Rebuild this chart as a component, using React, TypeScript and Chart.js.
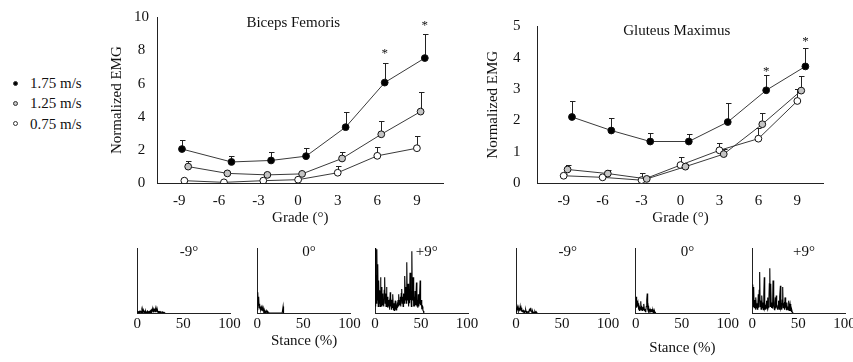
import React, { useEffect, useRef } from "react";
import { Chart, registerables } from "chart.js";

Chart.register(...registerables);

const FONT = "'Liberation Serif', 'Times New Roman', serif";
const TEXT = "#111111";
const AXIS = "#222222";

// ---------- legend / series ----------
const SPEEDS = ["1.75 m/s", "1.25 m/s", "0.75 m/s"];
const SPEED_FILL = ["#000000", "#c4c4c4", "#ffffff"];

// ---------- top panels ----------
const GRADE_TICKS = [-9, -6, -3, 0, 3, 6, 9];

// Biceps femoris
const BF_FAST_X = [-8.8, -5.05, -2.05, 0.6, 3.6, 6.56, 9.6];
const BF_FAST_Y = [2.05, 1.27, 1.36, 1.62, 3.37, 6.06, 7.54];
const BF_FAST_ERR = [2.57, 1.6, 1.85, 2.14, 4.29, 7.27, 8.99];
const BF_MED_X = [-8.33, -5.36, -2.33, 0.3, 3.33, 6.3, 9.28];
const BF_MED_Y = [0.99, 0.58, 0.49, 0.55, 1.48, 2.94, 4.31];
const BF_MED_ERR = [1.33, 0.62, 0.52, 0.6, 1.85, 3.76, 5.52];
const BF_SLOW_X = [-8.62, -5.62, -2.64, 0, 3, 6, 9];
const BF_SLOW_Y = [0.14, 0.04, 0.14, 0.2, 0.62, 1.64, 2.1];
const BF_SLOW_ERR = [0.15, 0.05, 0.15, 0.22, 1.03, 2.18, 2.83];
const BF_STAR_X = [6.56, 9.6];
const BF_STAR_Y = [8.0, 9.7];

// Gluteus maximus
const GM_FAST_X = [-8.36, -5.33, -2.33, 0.64, 3.64, 6.6, 9.62];
const GM_FAST_Y = [2.11, 1.68, 1.33, 1.33, 1.95, 2.96, 3.72];
const GM_FAST_ERR = [2.62, 2.08, 1.61, 1.56, 2.56, 3.44, 4.3];
const GM_MED_X = [-8.7, -5.6, -2.6, 0.38, 3.33, 6.3, 9.3];
const GM_MED_Y = [0.44, 0.31, 0.14, 0.53, 0.93, 1.88, 2.95];
const GM_MED_ERR = [0.58, 0.43, 0.2, 0.6, 1.1, 2.24, 3.41];
const GM_SLOW_X = [-9, -6, -3, 0, 3, 6, 9];
const GM_SLOW_Y = [0.24, 0.19, 0.1, 0.58, 1.05, 1.42, 2.62];
const GM_SLOW_ERR = [0.3, 0.25, 0.33, 0.85, 1.29, 1.75, 2.99];
const GM_STAR_X = [6.6, 9.62];
const GM_STAR_Y = [3.68, 4.63];

// ---------- bottom panels (raw EMG over stance) ----------
const STANCE_TICKS = [0, 50, 100];
const STANCE_STEP = 0.5; // % stance between samples
const PANEL_LABELS = ["-9°", "0°", "+9°"];

const BF_EMG_M9 = [
  0.03, 0.01, 0.02, 0.01, 0.02, 0.01, 0.03, 0.01, 0.02, 0.01,
  0.04, 0.01, 0.05, 0.02, 0.03, 0.01, 0.02, 0.01, 0.03, 0.01,
  0.02, 0.01, 0.03, 0.01, 0.02, 0.01, 0.02, 0.01, 0.03, 0.02,
  0.04, 0.02, 0.05, 0.03, 0.06, 0.02, 0.05, 0.03, 0.07, 0.02,
  0.06, 0.03, 0.05, 0.02, 0.04, 0.01, 0.03, 0.01, 0.02, 0.01,
  0.02, 0.01, 0.01, 0.01, 0.02, 0.01, 0.01, 0, 0.01, 0, 0,
];
const BF_EMG_0 = [
  0.05, 0.32, 0.12, 0.25, 0.08, 0.14, 0.06, 0.1, 0.05, 0.09,
  0.04, 0.08, 0.03, 0.07, 0.02, 0.05, 0.02, 0.03, 0.01, 0.02,
  0.01, 0.03, 0.01, 0.02, 0.01, 0.01, 0, 0, 0, 0,
  0, 0, 0, 0, 0, 0, 0, 0, 0, 0,
  0, 0, 0, 0, 0, 0, 0, 0, 0, 0,
  0, 0, 0, 0, 0, 0, 0.1, 0,
];
const BF_EMG_P9 = [
  1.0, 0.1, 0.6, 0.15, 0.98, 0.2, 0.75, 0.1, 0.5, 0.15,
  0.35, 0.1, 0.55, 0.2, 0.4, 0.1, 0.3, 0.12, 0.2, 0.1,
  0.35, 0.55, 0.15, 0.3, 0.1, 0.4, 0.15, 0.25, 0.08, 0.2,
  0.1, 0.15, 0.05, 0.32, 0.1, 0.2, 0.05, 0.15, 0.08, 0.29,
  0.05, 0.15, 0.04, 0.12, 0.19, 0.05, 0.1, 0.04, 0.12, 0.08,
  0.2, 0.29, 0.1, 0.2, 0.12, 0.25, 0.1, 0.3, 0.37, 0.15,
  0.25, 0.1, 0.3, 0.15, 0.35, 0.57, 0.2, 0.4, 0.15, 0.78,
  0.2, 0.3, 0.45, 0.1, 0.3, 0.15, 0.62, 0.2, 0.35, 0.1,
  0.95, 0.2, 0.4, 0.55, 0.1, 0.25, 0.1, 0.34, 0.12, 0.2,
  0.47, 0.1, 0.2, 0.08, 0.29, 0.1, 0.15, 0.3, 0.5, 0.12,
  0.2, 0.19, 0.08, 0.1, 0.04, 0.03, 0,
];
const GM_EMG_M9 = [
  0.02, 0.08, 0.03, 0.09, 0.04, 0.08, 0.03, 0.06, 0.05, 0.1,
  0.04, 0.08, 0.02, 0.06, 0.02, 0.03, 0.04, 0.02, 0.03, 0.01,
  0.02, 0.05, 0.02, 0.01, 0.02, 0.01, 0.01, 0.02, 0.01, 0.05,
  0.07, 0.03, 0.08, 0.04, 0.02, 0.01, 0.03, 0.01, 0.02, 0.01,
  0.01, 0.02, 0, 0.01, 0, 0.01, 0,
];
const GM_EMG_0 = [
  0.1, 0.25, 0.08, 0.19, 0.1, 0.15, 0.05, 0.09, 0.04, 0.08,
  0.06, 0.18, 0.05, 0.11, 0.04, 0.09, 0.05, 0.1, 0.14, 0.04,
  0.06, 0.02, 0.04, 0.1, 0.2, 0.3, 0.08, 0.11, 0.03, 0.06,
  0.02, 0.05, 0.02, 0.04, 0.02, 0.06, 0.02, 0.04, 0.01, 0.03,
  0.01, 0.03, 0.01, 0,
];
const GM_EMG_P9 = [
  0.2, 0.44, 0.1, 0.4, 0.08, 0.2, 0.14, 0.05, 0.24, 0.08,
  0.15, 0.06, 0.12, 0.29, 0.08, 0.35, 0.63, 0.1, 0.19, 0.06,
  0.15, 0.27, 0.08, 0.16, 0.05, 0.3, 0.55, 0.08, 0.11, 0.05,
  0.12, 0.19, 0.07, 0.24, 0.06, 0.09, 0.2, 0.45, 0.69, 0.1,
  0.45, 0.12, 0.08, 0.16, 0.07, 0.5, 0.1, 0.11, 0.05, 0.15,
  0.24, 0.07, 0.27, 0.1, 0.09, 0.05, 0.12, 0.19, 0.06, 0.15,
  0.25, 0.42, 0.08, 0.11, 0.05, 0.2, 0.4, 0.08, 0.12, 0.14,
  0.05, 0.24, 0.08, 0.12, 0.05, 0.16, 0.06, 0.1, 0.05, 0.19,
  0.04, 0.1, 0.14, 0.03, 0.09, 0.02, 0.04, 0.01, 0,
];

// ---------- plugins ----------
const errorBarPlugin = {
  id: "errorBars",
  beforeDatasetsDraw(chart: any) {
    const ctx = chart.ctx;
    const ys = chart.scales.y;
    chart.data.datasets.forEach((ds: any, i: number) => {
      const err = ds.errTop;
      if (!err) return;
      const meta = chart.getDatasetMeta(i);
      ctx.save();
      ctx.strokeStyle = AXIS;
      ctx.lineWidth = 1;
      meta.data.forEach((pt: any, j: number) => {
        const v = err[j];
        if (v == null) return;
        const top = Math.round(ys.getPixelForValue(v)) + 0.5;
        const x = Math.round(pt.x) + 0.5;
        ctx.beginPath();
        ctx.moveTo(x, pt.y);
        ctx.lineTo(x, top);
        ctx.moveTo(x - 2.5, top);
        ctx.lineTo(x + 3, top);
        ctx.stroke();
      });
      ctx.restore();
    });
  },
};

const starPlugin = {
  id: "stars",
  afterDatasetsDraw(chart: any, _args: any, opts: any) {
    if (!opts || !opts.x) return;
    const ctx = chart.ctx;
    ctx.save();
    ctx.fillStyle = TEXT;
    ctx.font = `13px ${FONT}`;
    ctx.textAlign = "center";
    ctx.textBaseline = "alphabetic";
    opts.x.forEach((xv: number, i: number) => {
      const px = chart.scales.x.getPixelForValue(xv);
      const py = chart.scales.y.getPixelForValue(opts.y[i]);
      ctx.fillText("*", px, py + 7);
    });
    ctx.restore();
  },
};

const panelTitlePlugin = {
  id: "panelTitle",
  afterDraw(chart: any, _args: any, opts: any) {
    if (!opts || !opts.text) return;
    const { ctx, chartArea } = chart;
    ctx.save();
    ctx.fillStyle = TEXT;
    ctx.font = `15px ${FONT}`;
    ctx.textAlign = "center";
    ctx.textBaseline = "middle";
    ctx.fillText(opts.text, (chartArea.left + chartArea.right) / 2 + opts.dx, chartArea.top + opts.dy);
    ctx.restore();
  },
};

// ---------- configs ----------
type TopSpec = {
  title: string;
  titleDx: number;
  series: { x: number[]; y: number[]; err: number[] }[];
  stars: { x: number[]; y: number[] };
  xMin: number;
  xMax: number;
  yMax: number;
  yStep: number;
  yAxisW: number;
  xAxisH: number;
  padTop: number;
  padRight: number;
  yTickPad: number;
  yTitlePad: number;
};

function topConfig(s: TopSpec): any {
  return {
    type: "scatter",
    data: {
      datasets: s.series.map((ser, i) => ({
        label: SPEEDS[i],
        data: ser.x.map((x, j) => ({ x, y: ser.y[j] })),
        errTop: ser.err,
        showLine: true,
        borderColor: "#3a3a3a",
        borderWidth: 1,
        pointRadius: 3.4,
        pointHoverRadius: 3.4,
        pointBackgroundColor: SPEED_FILL[i],
        pointBorderColor: "#111111",
        pointBorderWidth: 1,
      })),
    },
    options: {
      responsive: false,
      animation: false,
      events: [],
      layout: { padding: { top: s.padTop, right: s.padRight, left: 0, bottom: 0 } },
      plugins: {
        legend: { display: false },
        tooltip: { enabled: false },
        panelTitle: { text: s.title, dx: s.titleDx, dy: 17 - s.padTop },
        stars: s.stars,
      },
      scales: {
        x: {
          type: "linear",
          min: s.xMin,
          max: s.xMax,
          grid: { display: false, drawTicks: false },
          border: { display: true, color: AXIS, width: 1 },
          afterBuildTicks: (sc: any) => {
            sc.ticks = GRADE_TICKS.map((v) => ({ value: v }));
          },
          afterFit: (sc: any) => {
            sc.height = s.xAxisH;
          },
          ticks: {
            color: TEXT,
            font: { family: FONT, size: 15 },
            padding: 9,
            maxRotation: 0,
            callback: (v: any) => String(v),
          },
          title: {
            display: true,
            text: "Grade (°)",
            color: TEXT,
            font: { family: FONT, size: 15 },
            padding: { top: 0, bottom: 2.7 },
          },
        },
        y: {
          type: "linear",
          min: 0,
          max: s.yMax,
          grid: { display: false, drawTicks: false },
          border: { display: true, color: AXIS, width: 1 },
          afterFit: (sc: any) => {
            sc.width = s.yAxisW;
          },
          ticks: {
            stepSize: s.yStep,
            color: TEXT,
            font: { family: FONT, size: 15 },
            padding: s.yTickPad,
            crossAlign: "center",
            callback: (v: any) => String(v),
          },
          title: {
            display: true,
            text: "Normalized EMG",
            color: TEXT,
            font: { family: FONT, size: 15 },
            padding: { top: s.yTitlePad, bottom: 0 },
          },
        },
      },
    },
    plugins: [errorBarPlugin, starPlugin, panelTitlePlugin],
  };
}

type BottomSpec = {
  label: string;
  values: number[];
  yAxisW: number;
  padRight: number;
  stanceTitle: boolean;
  stanceTitlePad: number;
};

function bottomConfig(b: BottomSpec): any {
  return {
    type: "line",
    data: {
      datasets: [
        {
          data: b.values.map((v, i) => ({ x: i * STANCE_STEP, y: v })),
          borderColor: "#000000",
          borderWidth: 1.1,
          pointRadius: 0,
          tension: 0,
          fill: false,
        },
      ],
    },
    options: {
      responsive: false,
      animation: false,
      events: [],
      layout: { padding: { top: 8, right: b.padRight, left: 0, bottom: 0 } },
      plugins: {
        legend: { display: false },
        tooltip: { enabled: false },
        panelTitle: { text: b.label, dx: 5, dy: 4 },
      },
      scales: {
        x: {
          type: "linear",
          min: 0,
          max: 101.5,
          grid: { display: false, drawTicks: false },
          border: { display: true, color: AXIS, width: 1 },
          afterBuildTicks: (sc: any) => {
            sc.ticks = STANCE_TICKS.map((v) => ({ value: v }));
          },
          afterFit: (sc: any) => {
            sc.height = 49;
          },
          ticks: {
            color: TEXT,
            font: { family: FONT, size: 15 },
            padding: 2,
            maxRotation: 0,
            autoSkip: false,
            callback: (v: any) => String(v),
          },
          title: {
            display: b.stanceTitle,
            text: "Stance (%)",
            color: TEXT,
            font: { family: FONT, size: 15 },
            padding: { top: 0, bottom: b.stanceTitlePad },
          },
        },
        y: {
          type: "linear",
          min: 0,
          max: 1,
          grid: { display: false, drawTicks: false },
          border: { display: true, color: AXIS, width: 1 },
          ticks: { display: false },
          afterFit: (sc: any) => {
            sc.width = b.yAxisW;
          },
        },
      },
    },
    plugins: [panelTitlePlugin],
  };
}

// ---------- components ----------
function ChartBox(props: { left: number; top: number; width: number; height: number; make: () => any }) {
  const ref = useRef<HTMLCanvasElement>(null);
  useEffect(() => {
    const chart = new Chart(ref.current as HTMLCanvasElement, props.make());
    return () => chart.destroy();
  }, []);
  return (
    <canvas
      ref={ref}
      width={props.width}
      height={props.height}
      style={{ position: "absolute", left: props.left, top: props.top, width: props.width, height: props.height }}
    />
  );
}

const LEGEND_Y = [83, 103, 123.5];

export default function App() {
  const bf: TopSpec = {
    title: "Biceps Femoris",
    titleDx: -7,
    series: [
      { x: BF_FAST_X, y: BF_FAST_Y, err: BF_FAST_ERR },
      { x: BF_MED_X, y: BF_MED_Y, err: BF_MED_ERR },
      { x: BF_SLOW_X, y: BF_SLOW_Y, err: BF_SLOW_ERR },
    ],
    stars: { x: BF_STAR_X, y: BF_STAR_Y },
    xMin: -10.67,
    xMax: 11,
    yMax: 10,
    yStep: 2,
    yAxisW: 57.3,
    xAxisH: 47,
    padTop: 11.7,
    padRight: 11.7,
    yTickPad: 8.3,
    yTitlePad: 7.7,
  };
  const gm: TopSpec = {
    title: "Gluteus Maximus",
    titleDx: -3.8,
    series: [
      { x: GM_FAST_X, y: GM_FAST_Y, err: GM_FAST_ERR },
      { x: GM_MED_X, y: GM_MED_Y, err: GM_MED_ERR },
      { x: GM_SLOW_X, y: GM_SLOW_Y, err: GM_SLOW_ERR },
    ],
    stars: { x: GM_STAR_X, y: GM_STAR_Y },
    xMin: -11,
    xMax: 11,
    yMax: 5,
    yStep: 1,
    yAxisW: 62.7,
    xAxisH: 46.7,
    padTop: 12.3,
    padRight: 11.7,
    yTickPad: 17.2,
    yTitlePad: 9.3,
  };

  const bottom = [
    { left: 127, yW: 10.3, values: BF_EMG_M9, label: PANEL_LABELS[0], title: false, tp: 12 },
    { left: 247, yW: 10.3, values: BF_EMG_0, label: PANEL_LABELS[1], title: true, tp: 12 },
    { left: 365, yW: 10, values: BF_EMG_P9, label: PANEL_LABELS[2], title: false, tp: 12 },
    { left: 506, yW: 10, values: GM_EMG_M9, label: PANEL_LABELS[0], title: false, tp: 4.7 },
    { left: 625, yW: 10.7, values: GM_EMG_0, label: PANEL_LABELS[1], title: true, tp: 4.7 },
    { left: 742, yW: 10.3, values: GM_EMG_P9, label: PANEL_LABELS[2], title: false, tp: 4.7 },
  ];
  const BW = 118;

  return (
    <div
      style={{
        position: "fixed",
        left: 0,
        top: 0,
        width: 853,
        height: 362,
        overflow: "hidden",
        background: "#ffffff",
        fontFamily: FONT,
      }}
    >
      {SPEEDS.map((s, i) => (
        <React.Fragment key={s}>
          <div
            style={{
              position: "absolute",
              left: 12.5,
              top: LEGEND_Y[i] - 2.5,
              width: 5,
              height: 5,
              borderRadius: "50%",
              boxSizing: "border-box",
              border: "1px solid #333",
              background: SPEED_FILL[i],
            }}
          />
          <div
            style={{
              position: "absolute",
              left: 30,
              top: LEGEND_Y[i] - 9,
              fontSize: 15,
              lineHeight: "18px",
              color: TEXT,
              whiteSpace: "nowrap",
            }}
          >
            {s}
          </div>
        </React.Fragment>
      ))}
      <ChartBox left={100} top={0} width={355} height={230} make={() => topConfig(bf)} />
      <ChartBox left={475} top={0} width={360} height={230} make={() => topConfig(gm)} />
      {bottom.map((b, i) => (
        <ChartBox
          key={i}
          left={b.left}
          top={240}
          width={BW}
          height={122}
          make={() =>
            bottomConfig({
              label: b.label,
              values: b.values,
              yAxisW: b.yW,
              padRight: BW - b.yW - 93.5,
              stanceTitle: b.title,
              stanceTitlePad: b.tp,
            })
          }
        />
      ))}
    </div>
  );
}
